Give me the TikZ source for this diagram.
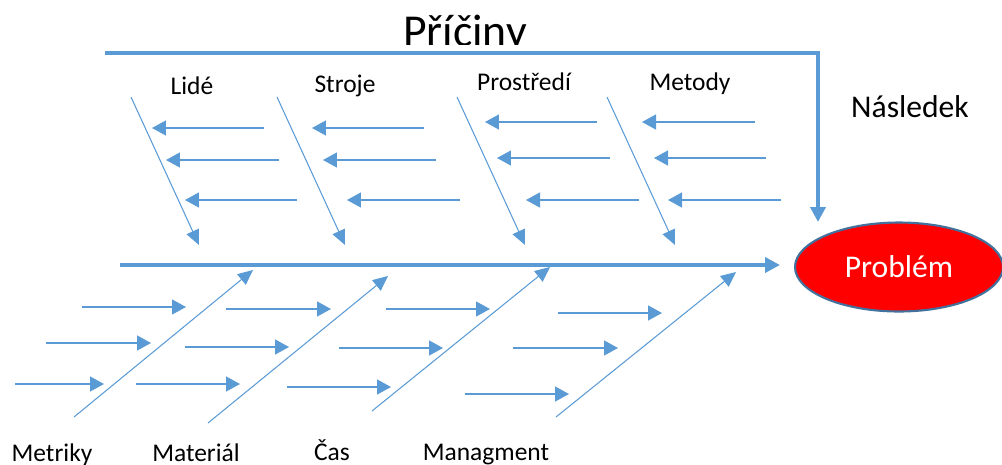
\documentclass[tikz,border=0pt]{standalone}
\usepackage{fontspec}
\setmainfont{Carlito}
\usetikzlibrary{arrows.meta}
\usetikzlibrary{positioning}
\usetikzlibrary{shapes.geometric}

\definecolor{bonecol}{HTML}{5B9BD5}
\definecolor{rimcol}{HTML}{41719C}

\begin{document}
\begin{tikzpicture}[x=0.02cm,y=-0.02cm]
  \tikzset{spine/.style={bonecol,line width=2.1pt,-{Triangle[length=3mm,width=3mm]}},
           bone/.style={bonecol,line width=0.6pt,-{Triangle[length=3mm,width=2.7mm]}},
           cause/.style={bonecol,line width=0.8pt,-{Triangle[length=2.8mm,width=3mm]}},
           lbl/.style={font=\fontsize{14.5}{17}\selectfont,inner sep=0pt,anchor=base},
           effectbox/.style={ellipse,draw=rimcol,line width=1.2pt,fill=red,
                             minimum width=4.16cm,minimum height=1.78cm,inner sep=0pt,
                             text=white,font=\fontsize{18}{21}\selectfont}}
  \useasboundingbox (0,0) rectangle (1002,464);

  % title, cut off by the frame line
  \begin{scope}
    \clip (300,0) rectangle (700,44);
    \node[lbl,font=\fontsize{26}{30}\selectfont] (causes) at (465,46.5) {Příčiny};
  \end{scope}

  \node[effectbox] (problem) at (899,267) {Problém};
  \node[lbl,font=\fontsize{18}{21}\selectfont] (effect) at (910,117) {Následek};

  \node[lbl] (people)  at (192,94) {Lidé};
  \node[lbl] (machine) at (345,92) {Stroje};
  \node[lbl] (environ) at (524,90) {Prostředí};
  \node[lbl] (method)  at (690,90) {Metody};
  \node[lbl] (metric)  at (52,461)  {Metriky};
  \node[lbl] (material) at (196,461) {Materiál};
  \node[lbl] (timing)  at (332,460) {Čas};
  \node[lbl] (manage)  at (486,460) {Managment};

  \coordinate (capleft) at (105,53);
  \coordinate (capright) at (818,53);
  \coordinate (captip) at (818,222);
  \draw[spine] (capleft) -- (capright) -- (captip);

  \coordinate (spinetail) at (120,265);
  \coordinate (spinetip) at (780,265);
  \draw[spine] (spinetail) -- (spinetip);

  % upper bones
  \coordinate (people a) at (131,97);   \coordinate (people b) at (199,245);
  \coordinate (machine a) at (277,97);  \coordinate (machine b) at (345,245);
  \coordinate (environ a) at (457,97);  \coordinate (environ b) at (525,245);
  \coordinate (method a) at (607,97);   \coordinate (method b) at (675,245);
  \draw[bone] (people a) -- (people b);
  \draw[bone] (machine a) -- (machine b);
  \draw[bone] (environ a) -- (environ b);
  \draw[bone] (method a) -- (method b);

  % lower bones
  \coordinate (metric a) at (74,417);    \coordinate (metric b) at (253,270);
  \coordinate (material a) at (208,423); \coordinate (material b) at (388,276);
  \coordinate (timing a) at (372,411);   \coordinate (timing b) at (550,267);
  \coordinate (manage a) at (556,417);   \coordinate (manage b) at (736,272);
  \draw[bone] (metric a) -- (metric b);
  \draw[bone] (material a) -- (material b);
  \draw[bone] (timing a) -- (timing b);
  \draw[bone] (manage a) -- (manage b);

  % small cause arrows
  \foreach \n/\a/\b/\y in {1/264/152/128, 2/279/166/160, 3/297/185/200,
                           4/424/312/128, 5/436/323/160, 6/460/347/200,
                           7/597/485/122, 8/610/497/158, 9/639/526/200,
                           10/755/642/122, 11/766/654/158, 12/781/668/200,
                           13/82/186/307, 14/46/151/343, 15/15/104/384,
                           16/226/331/309, 17/185/289/347, 18/136/240/384,
                           19/386/490/309, 20/339/443/348, 21/287/391/387,
                           22/558/662/313, 23/513/618/348, 24/465/569/394}{
    \coordinate (c\n a) at (\a,\y);
    \coordinate (c\n b) at (\b,\y);
    \draw[cause] (c\n a) -- (c\n b);
  }
\end{tikzpicture}
\end{document}
